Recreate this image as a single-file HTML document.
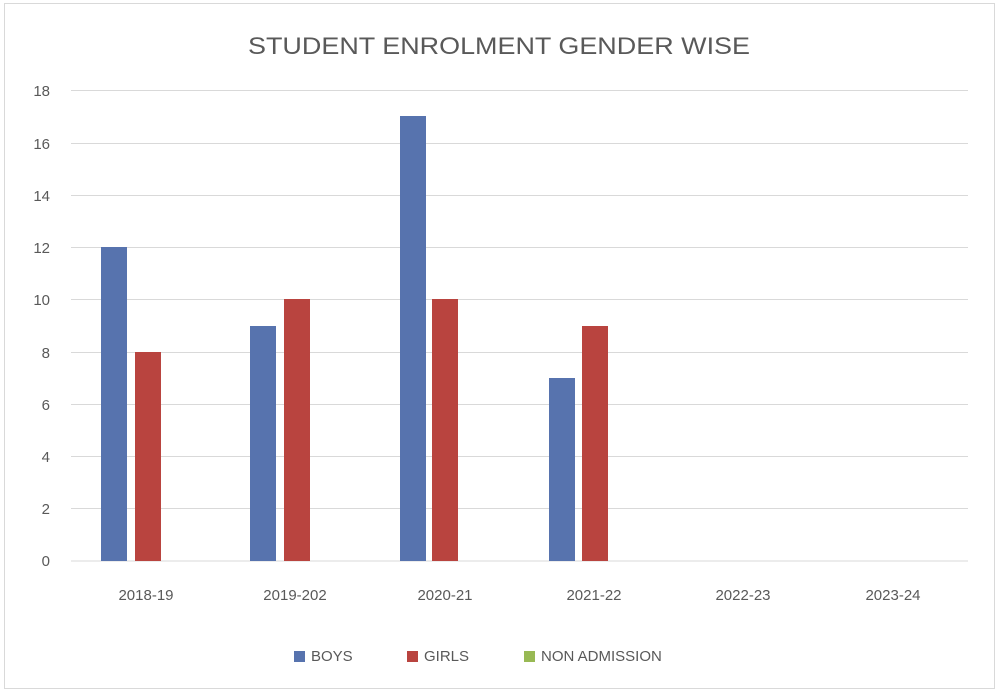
<!DOCTYPE html>
<html><head><meta charset="utf-8"><style>body{margin:0;background:#fff}svg{display:block}</style></head>
<body>
<svg width="1000" height="693" xmlns="http://www.w3.org/2000/svg" font-family="Liberation Sans, sans-serif">
<rect x="0" y="0" width="1000" height="693" fill="#fff"/>
<rect x="4.5" y="3.5" width="990" height="685" fill="none" stroke="#d9d9d9" stroke-width="1"/>
<text x="499" y="54" text-anchor="middle" font-size="24" fill="#595959" textLength="502" lengthAdjust="spacingAndGlyphs">STUDENT ENROLMENT GENDER WISE</text>
<g stroke="#d9d9d9" stroke-width="1">
<line x1="71" x2="968" y1="90.5" y2="90.5"/>
<line x1="71" x2="968" y1="143.5" y2="143.5"/>
<line x1="71" x2="968" y1="195.5" y2="195.5"/>
<line x1="71" x2="968" y1="247.5" y2="247.5"/>
<line x1="71" x2="968" y1="299.5" y2="299.5"/>
<line x1="71" x2="968" y1="352.5" y2="352.5"/>
<line x1="71" x2="968" y1="404.5" y2="404.5"/>
<line x1="71" x2="968" y1="456.5" y2="456.5"/>
<line x1="71" x2="968" y1="508.5" y2="508.5"/>
<line x1="71" x2="968" y1="561" y2="561"/>
</g>
<g font-size="15" fill="#595959" text-anchor="end">
<text x="50" y="96">18</text><text x="50" y="149">16</text><text x="50" y="201">14</text>
<text x="50" y="253">12</text><text x="50" y="305">10</text><text x="50" y="358">8</text>
<text x="50" y="410">6</text><text x="50" y="462">4</text><text x="50" y="514">2</text><text x="50" y="566">0</text>
</g>
<g fill="#5773ae">
<rect x="101" y="247" width="26" height="314"/>
<rect x="250" y="326" width="26" height="235"/>
<rect x="400" y="116" width="26" height="445"/>
<rect x="549" y="378" width="26" height="183"/>
</g>
<g fill="#b9443f">
<rect x="135" y="352" width="26" height="209"/>
<rect x="284" y="299" width="26" height="262"/>
<rect x="432" y="299" width="26" height="262"/>
<rect x="582" y="326" width="26" height="235"/>
</g>
<g font-size="15" fill="#595959" text-anchor="middle">
<text x="146" y="600">2018-19</text><text x="295" y="600">2019-202</text><text x="445" y="600">2020-21</text>
<text x="594" y="600">2021-22</text><text x="743" y="600">2022-23</text><text x="893" y="600">2023-24</text>
</g>
<rect x="294" y="651" width="11" height="11" fill="#5773ae"/>
<text x="311" y="661" font-size="15" fill="#595959">BOYS</text>
<rect x="407" y="651" width="11" height="11" fill="#b9443f"/>
<text x="424" y="661" font-size="15" fill="#595959">GIRLS</text>
<rect x="524" y="651" width="11" height="11" fill="#98b954"/>
<text x="541" y="661" font-size="15" fill="#595959">NON ADMISSION</text>
</svg>
</body></html>
